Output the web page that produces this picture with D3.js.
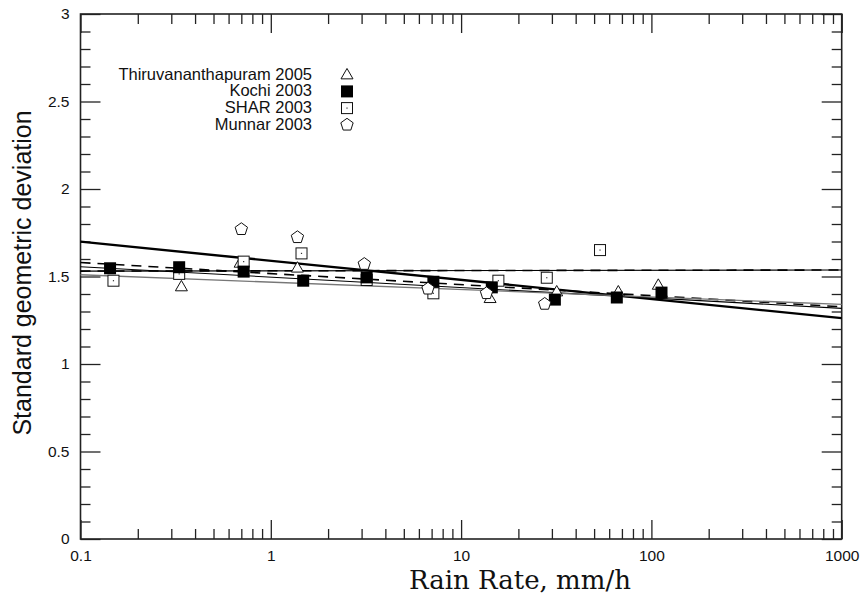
<!DOCTYPE html>
<html><head><meta charset="utf-8">
<script src="https://cdn.jsdelivr.net/npm/d3@7"></script>
<style>
  body { margin: 0; background: #fff; }
  svg { display: block; }
  .tick text { font-family: "Liberation Sans", Arial, sans-serif; font-size: 15.5px; fill: #111; }
</style>
</head><body>
<svg id="chart" width="864" height="594"></svg>
<script>
// Axis ticks
const xMajorTicks = [0.1, 1, 10, 100, 1000];
const xTickLabels = ["0.1", "1", "10", "100", "1000"];
const yMajorTicks = [0, 0.5, 1, 1.5, 2, 2.5, 3];
const yTickLabels = ["0", "0.5", "1", "1.5", "2", "2.5", "3"];

// Series: rain rate (mm/h) and standard geometric deviation
const seriesNames = ["Thiruvananthapuram 2005", "Kochi 2003", "SHAR 2003", "Munnar 2003"];
const thiruRain  = [0.339, 0.69, 1.38, 14.2, 31.8, 67, 108.7];
const thiruSgd   = [1.442, 1.577, 1.549, 1.375, 1.413, 1.413, 1.451];
const kochiRain  = [0.143, 0.33, 0.72, 1.48, 3.19, 7.15, 14.5, 31.1, 65.8, 113];
const kochiSgd   = [1.547, 1.553, 1.528, 1.476, 1.495, 1.47, 1.438, 1.368, 1.38, 1.408];
const sharRain   = [0.149, 0.33, 0.72, 1.45, 3.19, 7.15, 15.7, 28.2, 53.7];
const sharSgd    = [1.476, 1.515, 1.585, 1.632, 1.48, 1.404, 1.476, 1.493, 1.651];
const munnarRain = [0.70, 1.38, 3.1, 6.7, 13.6, 27.5];
const munnarSgd  = [1.77, 1.724, 1.571, 1.43, 1.404, 1.343];

// Fitted lines (straight in log rain rate): value at R = 0.1 and R = 1000
const fitStyles = ["thick", "thin", "dash", "dash", "thin", "gray"];
const fitStart  = [1.699, 1.531, 1.531, 1.580, 1.556, 1.510];
const fitEnd    = [1.262, 1.537, 1.537, 1.327, 1.318, 1.341];

const svg = d3.select("#chart");
const L = 80.5, R = 841.7, T = 14, B = 539;

const x = d3.scaleLog().domain([0.1, 1000]).range([L, R]);
const y = d3.scaleLinear().domain([0, 3]).range([B, T]);

// Minor ticks
const xMinor = [];
[0.1, 1, 10, 100].forEach(d => { for (let k = 2; k <= 9; k++) xMinor.push(d * k); });
const yMinor = d3.range(0, 31).map(i => i / 10).filter(v => Math.abs(v * 2 - Math.round(v * 2)) > 1e-6);

const axisColor = "#222";
function styleAxis(g) {
  g.select(".domain").remove();
  g.selectAll(".tick line").attr("stroke", axisColor).attr("stroke-width", 1.3);
}

// bottom
svg.append("g").attr("transform", `translate(0,${B})`)
  .call(d3.axisBottom(x).tickValues(xMinor).tickSize(-10).tickFormat(""))
  .call(styleAxis);
svg.append("g").attr("transform", `translate(0,${B})`)
  .call(d3.axisBottom(x).tickValues(xMajorTicks).tickSize(-19).tickPadding(10.5)
        .tickFormat((d, i) => xTickLabels[i]))
  .call(styleAxis);
// top
svg.append("g").attr("transform", `translate(0,${T})`)
  .call(d3.axisTop(x).tickValues(xMinor).tickSize(-10).tickFormat(""))
  .call(styleAxis);
svg.append("g").attr("transform", `translate(0,${T})`)
  .call(d3.axisTop(x).tickValues(xMajorTicks).tickSize(-19).tickFormat(""))
  .call(styleAxis);
// left
svg.append("g").attr("transform", `translate(${L},0)`)
  .call(d3.axisLeft(y).tickValues(yMinor).tickSize(-10).tickFormat(""))
  .call(styleAxis);
svg.append("g").attr("transform", `translate(${L},0)`)
  .call(d3.axisLeft(y).tickValues(yMajorTicks).tickSize(-20).tickPadding(11)
        .tickFormat((d, i) => yTickLabels[i]))
  .call(styleAxis);
// right
svg.append("g").attr("transform", `translate(${R},0)`)
  .call(d3.axisRight(y).tickValues(yMinor).tickSize(-10).tickFormat(""))
  .call(styleAxis);
svg.append("g").attr("transform", `translate(${R},0)`)
  .call(d3.axisRight(y).tickValues(yMajorTicks).tickSize(-20).tickFormat(""))
  .call(styleAxis);

// frame
svg.append("rect").attr("x", L).attr("y", T).attr("width", R - L).attr("height", B - T)
  .attr("fill", "none").attr("stroke", axisColor).attr("stroke-width", 1.6);

// fitted lines
const line = d3.line().x(d => x(d[0])).y(d => y(d[1]));
const styleMap = {
  thick: { stroke: "#000", width: 2.4, dash: null },
  thin:  { stroke: "#000", width: 1.1, dash: null },
  gray:  { stroke: "#777", width: 1.3, dash: null },
  dash:  { stroke: "#000", width: 1.6, dash: "10,7" }
};
fitStart.forEach((s, i) => {
  const st = styleMap[fitStyles[i]];
  svg.append("path")
    .attr("d", line([[0.1, s], [1000, fitEnd[i]]]))
    .attr("fill", "none")
    .attr("stroke", st.stroke)
    .attr("stroke-width", st.width)
    .attr("stroke-dasharray", st.dash);
});

// marker shapes
function trianglePath(s) { // s = side length
  const h = s * Math.sqrt(3) / 2;
  return `M0,${-h * 0.6}L${s / 2},${h * 0.4}L${-s / 2},${h * 0.4}Z`;
}
function pentagonPath(r) {
  const pts = d3.range(5).map(k => {
    const a = -Math.PI / 2 + k * 2 * Math.PI / 5;
    return [r * Math.cos(a), r * Math.sin(a)];
  });
  return "M" + pts.map(p => p.join(",")).join("L") + "Z";
}

function drawMarker(g, kind, cx, cy) {
  const m = g.append("g").attr("transform", `translate(${cx},${cy})`);
  if (kind === 0) {
    m.append("path").attr("d", trianglePath(12)).attr("fill", "#fff")
      .attr("stroke", "#111").attr("stroke-width", 1);
  } else if (kind === 1) {
    m.append("rect").attr("x", -6).attr("y", -6).attr("width", 12).attr("height", 12)
      .attr("fill", "#000");
  } else if (kind === 2) {
    m.append("rect").attr("x", -5.5).attr("y", -5.5).attr("width", 11).attr("height", 11)
      .attr("fill", "#fff").attr("stroke", "#111").attr("stroke-width", 1);
    m.append("rect").attr("x", -0.6).attr("y", -0.6).attr("width", 1.2).attr("height", 1.2)
      .attr("fill", "#333");
  } else {
    m.append("path").attr("d", pentagonPath(6.5)).attr("fill", "#fff")
      .attr("stroke", "#111").attr("stroke-width", 1);
  }
}

const pts = svg.append("g");
const allSeries = [
  [thiruRain, thiruSgd], [sharRain, sharSgd], [kochiRain, kochiSgd], [munnarRain, munnarSgd]
];
const kinds = [0, 2, 1, 3];
allSeries.forEach((s, si) => {
  s[0].forEach((r, i) => drawMarker(pts, kinds[si], x(r), y(s[1][i])));
});

// legend
const legend = svg.append("g");
const legendKinds = [0, 1, 2, 3];
seriesNames.forEach((name, i) => {
  const by = 79.5 + i * 16.7;
  legend.append("text")
    .attr("x", 312).attr("y", by)
    .attr("text-anchor", "end")
    .style("font-family", "'Liberation Sans', Arial, sans-serif")
    .style("font-size", "16.5px")
    .attr("fill", "#111")
    .text(name);
  drawMarker(legend, legendKinds[i], 347, by - 4.8);
});

// axis titles
svg.append("text")
  .attr("transform", "translate(31,273) rotate(-90)")
  .attr("text-anchor", "middle")
  .style("font-family", "'Liberation Sans', Arial, sans-serif")
  .style("font-size", "25px")
  .attr("fill", "#111")
  .text("Standard geometric deviation");

svg.append("text")
  .attr("x", 520).attr("y", 589)
  .attr("text-anchor", "middle")
  .style("font-family", "'DejaVu Serif', serif")
  .style("font-size", "26px")
  .attr("fill", "#111")
  .text("Rain Rate, mm/h");
</script>
</body></html>
